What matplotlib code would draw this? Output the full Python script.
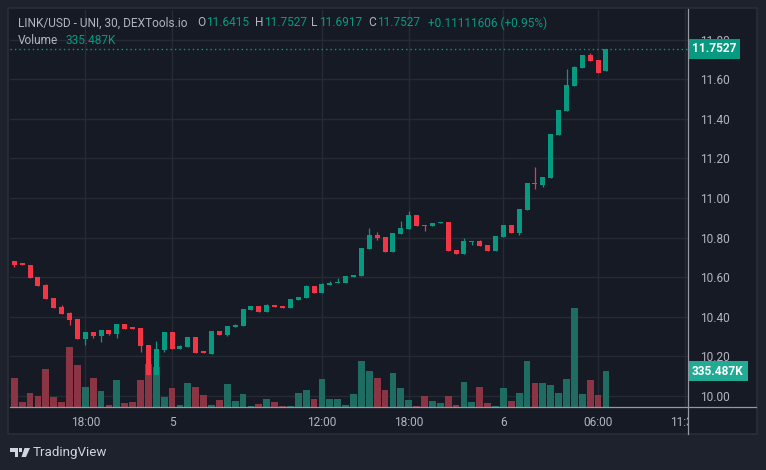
import matplotlib
matplotlib.use("Agg")
import matplotlib.pyplot as plt
from matplotlib.patches import Rectangle, Polygon
from matplotlib.lines import Line2D
from matplotlib.transforms import Bbox, TransformedBbox, blended_transform_factory
import numpy as np

# ---------------- data ----------------
opens = [10.682, 10.667, 10.662, 10.601, 10.561, 10.495, 10.449, 10.419, 10.389, 10.289,
         10.323, 10.303, 10.333, 10.313, 10.364, 10.343, 10.343, 10.258, 10.106, 10.232,
         10.323, 10.237, 10.247, 10.298, 10.222, 10.212, 10.328, 10.308, 10.348, 10.354,
         10.434, 10.455, 10.424, 10.460, 10.455, 10.444, 10.485, 10.495, 10.556, 10.520,
         10.561, 10.571, 10.571, 10.601, 10.606, 10.742, 10.813, 10.803, 10.727, 10.818,
         10.843, 10.914, 10.864, 10.859, 10.874, 10.879, 10.737, 10.717, 10.778, 10.783,
         10.763, 10.732, 10.803, 10.864, 10.823, 10.939, 11.076, 11.066, 11.101, 11.318,
         11.439, 11.566, 11.657, 11.722, 11.697, 11.6415]
highs = [10.682, 10.667, 10.662, 10.601, 10.566, 10.495, 10.460, 10.424, 10.389, 10.323,
         10.323, 10.333, 10.333, 10.364, 10.364, 10.343, 10.343, 10.258, 10.278, 10.323,
         10.323, 10.258, 10.298, 10.298, 10.222, 10.328, 10.328, 10.354, 10.364, 10.439,
         10.455, 10.455, 10.465, 10.460, 10.455, 10.490, 10.500, 10.561, 10.556, 10.571,
         10.581, 10.596, 10.606, 10.611, 10.747, 10.848, 10.828, 10.803, 10.823, 10.884,
         10.934, 10.914, 10.864, 10.874, 10.879, 10.879, 10.737, 10.798, 10.783, 10.788,
         10.763, 10.808, 10.864, 10.864, 10.944, 11.076, 11.157, 11.106, 11.323, 11.444,
         11.652, 11.667, 11.722, 11.732, 11.697, 11.7527]
lows = [10.653, 10.663, 10.598, 10.557, 10.491, 10.446, 10.416, 10.359, 10.289, 10.258,
        10.293, 10.273, 10.308, 10.293, 10.338, 10.340, 10.222, 10.106, 10.106, 10.222,
        10.237, 10.237, 10.247, 10.217, 10.219, 10.212, 10.308, 10.303, 10.348, 10.354,
        10.434, 10.424, 10.424, 10.449, 10.444, 10.444, 10.485, 10.495, 10.520, 10.520,
        10.561, 10.571, 10.571, 10.601, 10.606, 10.742, 10.788, 10.727, 10.727, 10.818,
        10.843, 10.859, 10.833, 10.859, 10.874, 10.732, 10.717, 10.717, 10.763, 10.758,
        10.732, 10.732, 10.803, 10.823, 10.813, 10.939, 11.045, 11.056, 11.101, 11.318,
        11.439, 11.566, 11.657, 11.692, 11.631, 11.6415]
closes = [10.663, 10.663, 10.598, 10.557, 10.491, 10.446, 10.416, 10.385, 10.289, 10.323,
          10.303, 10.333, 10.313, 10.364, 10.338, 10.340, 10.253, 10.106, 10.237, 10.323,
          10.237, 10.253, 10.298, 10.217, 10.219, 10.328, 10.308, 10.354, 10.359, 10.439,
          10.455, 10.424, 10.460, 10.449, 10.444, 10.490, 10.500, 10.556, 10.520, 10.566,
          10.571, 10.576, 10.606, 10.611, 10.747, 10.813, 10.798, 10.727, 10.823, 10.848,
          10.914, 10.859, 10.859, 10.874, 10.879, 10.732, 10.717, 10.783, 10.783, 10.758,
          10.732, 10.808, 10.864, 10.823, 10.944, 11.076, 11.071, 11.106, 11.323, 11.444,
          11.571, 11.662, 11.722, 11.692, 11.631, 11.7527]
volumes_k = [270, 47, 130, 103, 354, 93, 47, 559, 391, 186,
             270, 149, 19, 252, 37, 47, 252, 401, 373, 93,
             177, 19, 224, 186, 112, 19, 65, 214, 56, 121,
             9, 28, 75, 47, 9, 9, 130, 158, 75, 261,
             75, 75, 19, 121, 429, 335, 270, 158, 317, 177,
             65, 9, 103, 56, 37, 103, 19, 233, 47, 186,
             37, 9, 177, 56, 130, 429, 224, 224, 205, 130,
             261, 923, 121, 252, 112, 335.487]

time_tick_index = [9, 20, 39, 50, 62, 74, 85]
time_tick_labels = ["18:00", "5", "12:00", "18:00", "6", "06:00", "11:30"]
price_ticks = [10.00, 10.20, 10.40, 10.60, 10.80, 11.00, 11.20, 11.40, 11.60, 11.80]

symbol_title = "LINK/USD - UNI, 30, DEXTools.io"
hdr_open, hdr_high, hdr_low, hdr_close = "11.6415", "11.7527", "11.6917", "11.7527"
hdr_change = "+0.11111606 (+0.95%)"
last_price = 11.7527
last_volume_k = 335.487

# ---------------- style ----------------
W, H = 766, 470
BG_OUT = "#1e222d"
BG_PANE = "#161a25"
BORDER = "#2a2e39"
GRID = "#262a35"
TXT = "#b2b5be"
UP = "#089981"
DOWN = "#f23645"
VUP = "#1f6d62"
VDOWN = "#8a3444"
FONT = "Roboto"
plt.rcParams["font.family"] = [FONT, "DejaVu Sans"]

fig = plt.figure(figsize=(W / 100, H / 100), dpi=100, facecolor=BG_OUT)


def fx(x):
    return x / W


def fy(y):
    return 1 - y / H


# pane panel (behind the axes)
fig.patches.append(Rectangle((fx(8), fy(434)), fx(749), 426 / H, transform=fig.transFigure,
                             facecolor=BG_PANE, edgecolor=BORDER, lw=1.2, zorder=-5))

rect = [fx(10), fy(407), fx(678), 397 / H]
ymin, ymax = 9.944, 11.949
xmin, xmax = -0.545, 85.4

# grid / tick axes
ax_g = fig.add_axes(rect)
ax_g.set_facecolor(BG_PANE)
ax_g.set_xlim(xmin, xmax)
ax_g.set_ylim(ymin, ymax)
ax_g.set_yticks(price_ticks, [f"{p:.2f}" for p in price_ticks])
ax_g.yaxis.tick_right()
ax_g.tick_params(axis="y", length=0, pad=9, labelcolor=TXT, labelsize=8.6)
ax_g.set_xticks(time_tick_index, time_tick_labels)
ax_g.tick_params(axis="x", length=0, pad=6.5, labelcolor=TXT, labelsize=8.6)
ax_g.grid(True, color=GRID, lw=1.0)
for s in ax_g.spines.values():
    s.set_visible(False)
clipbox = TransformedBbox(Bbox([[fx(10), 0], [fx(688), 1]]), fig.transFigure)
for t in ax_g.get_xticklabels():
    t.set_clip_on(True)
    t.set_clip_box(clipbox)

# volume axes
ax_v = fig.add_axes(rect, sharex=ax_g)
ax_v.patch.set_visible(False)
ax_v.set_ylim(0, 397 * 9.32)
ax_v.axis("off")
idx = np.arange(len(opens))
vcolors = [VUP if c >= o else VDOWN for o, c in zip(opens, closes)]
ax_v.bar(idx, volumes_k, width=0.86, color=vcolors, linewidth=0)

# candle axes
ax_c = fig.add_axes(rect, sharex=ax_g)
ax_c.patch.set_visible(False)
ax_c.set_ylim(ymin, ymax)
ax_c.axis("off")
ccolors = [UP if c >= o else DOWN for o, c in zip(opens, closes)]
ax_c.vlines(idx, lows, highs, colors=ccolors, lw=0.9)
bottoms = [min(o, c) for o, c in zip(opens, closes)]
heights = [max(abs(c - o), 0.006) for o, c in zip(opens, closes)]
ax_c.bar(idx, heights, bottom=bottoms, width=0.63, color=ccolors, linewidth=0)
ax_c.axhline(last_price, color=UP, lw=1.0, ls=(0, (1, 2.2)))

# price scale labels
tr_p = blended_transform_factory(fig.transFigure, ax_c.transData)
ax_c.text(fx(692), last_price, f"{last_price:.4f}", transform=tr_p, ha="left", va="center",
          color="white", fontsize=8.6, fontweight="bold", clip_on=False,
          bbox=dict(boxstyle="square,pad=0.32", fc=UP, ec="none"), zorder=10)
tr_v = blended_transform_factory(fig.transFigure, ax_v.transData)
ax_v.text(fx(692), last_volume_k, f"{last_volume_k:.3f}K", transform=tr_v, ha="left", va="center",
          color="white", fontsize=8.6, fontweight="bold", clip_on=False,
          bbox=dict(boxstyle="square,pad=0.32", fc="#22ab94", ec="none"), zorder=10)

# separator lines
sep = "#9598a1"
fig.lines.append(Line2D([fx(688), fx(688)], [fy(9), fy(434)], transform=fig.transFigure, color=sep, lw=0.9))
fig.lines.append(Line2D([fx(10), fx(756)], [fy(407), fy(407)], transform=fig.transFigure, color=sep, lw=0.9))

# header legend
fs = 8.6
fig.text(fx(18), fy(23), symbol_title, color=TXT, fontsize=fs, va="center")
for lab, xl, val, xv in [("O", 197.5, hdr_open, 206.5), ("H", 255, hdr_high, 264),
                         ("L", 311.5, hdr_low, 319.5), ("C", 368, hdr_close, 377)]:
    fig.text(fx(xl), fy(23), lab, color=TXT, fontsize=fs, va="center")
    fig.text(fx(xv), fy(23), val, color=UP, fontsize=fs, va="center")
fig.text(fx(428), fy(23), hdr_change, color=UP, fontsize=fs, va="center")
fig.text(fx(18), fy(41), "Volume", color=TXT, fontsize=fs, va="center")
fig.text(fx(65), fy(41), f"{last_volume_k:.3f}K", color=UP, fontsize=fs, va="center")

# TradingView logo
logo_c = "#d1d4dc"
fig.patches.append(Polygon([(fx(10), fy(448)), (fx(18), fy(448)), (fx(18), fy(457)), (fx(14.5), fy(457)),
                            (fx(14.5), fy(451.5)), (fx(10), fy(451.5))], closed=True,
                           transform=fig.transFigure, fc=logo_c, ec="none"))
fig.patches.append(Rectangle((fx(19), fy(451.5)), fx(3), 3.5 / H, transform=fig.transFigure,
                             fc=logo_c, ec="none"))
fig.patches.append(Polygon([(fx(24.5), fy(448)), (fx(30), fy(448)), (fx(26), fy(457)), (fx(21.5), fy(457))],
                           closed=True, transform=fig.transFigure, fc=logo_c, ec="none"))
fig.text(fx(33), fy(452.5), "TradingView", color=logo_c, fontsize=9.6, va="center")

fig.savefig("out.png", dpi=100, facecolor=BG_OUT)
